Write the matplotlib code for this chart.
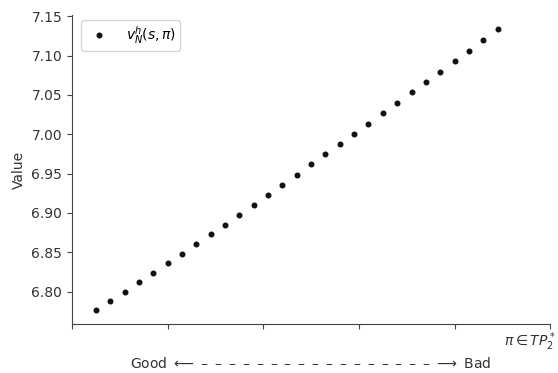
import matplotlib.pyplot as plt

# policy index positions (x) and value estimates
x = [0.05, 0.08, 0.11, 0.14, 0.17, 0.20, 0.23, 0.26, 0.29, 0.32,
     0.35, 0.38, 0.41, 0.44, 0.47, 0.50, 0.53, 0.56, 0.59, 0.62,
     0.65, 0.68, 0.71, 0.74, 0.77, 0.80, 0.83, 0.86, 0.89]
values = [6.7764, 6.7878, 6.7996, 6.8119, 6.8237, 6.8360, 6.8482, 6.8605, 6.8728, 6.8850,
          6.8977, 6.9104, 6.9231, 6.9354, 6.9485, 6.9617, 6.9744, 6.9871, 7.0001, 7.0132,
          7.0264, 7.0398, 7.0531, 7.0661, 7.0797, 7.0931, 7.1063, 7.1198, 7.1338]
xticks = [0.0, 0.2, 0.4, 0.6, 0.8, 1.0]

fig = plt.figure(figsize=(5.58, 3.73), dpi=100)
ax = fig.add_axes([0.129, 0.131, 0.857, 0.829])

ax.plot(x, values, 'o', color='#111111', ms=3.3, linestyle='none', label=r'$v_N^h(s,\pi)$')

ax.set_xlim(0, 1)
ax.set_xticks(xticks)
ax.set_xticklabels([])
ax.spines['top'].set_visible(False)
ax.spines['right'].set_visible(False)
for s in ['left', 'bottom']:
    ax.spines[s].set_color('#444444')
ax.tick_params(colors='#444444', labelcolor='#333333', labelsize=10)

ax.set_ylabel('Value', fontsize=10, color='#333333')
ax.set_xlabel(r'$\pi \in TP_2^*$', loc='right', fontsize=10, color='#333333')
ax.xaxis.set_label_coords(1.012, -0.02)

ax.legend(loc='upper left', fontsize=10, handletextpad=0.9, borderpad=0.3,
          bbox_to_anchor=(0.005, 1.005))

arrow = '\u2002'.join(['\u2013'] * 17)
fig.text(311 / 558, 1 - 364 / 373,
         r'Good $\longleftarrow$ ' + arrow + r' $\longrightarrow$ Bad',
         ha='center', va='center', fontsize=10, color='#333333')

plt.savefig('out.png', dpi=100)
